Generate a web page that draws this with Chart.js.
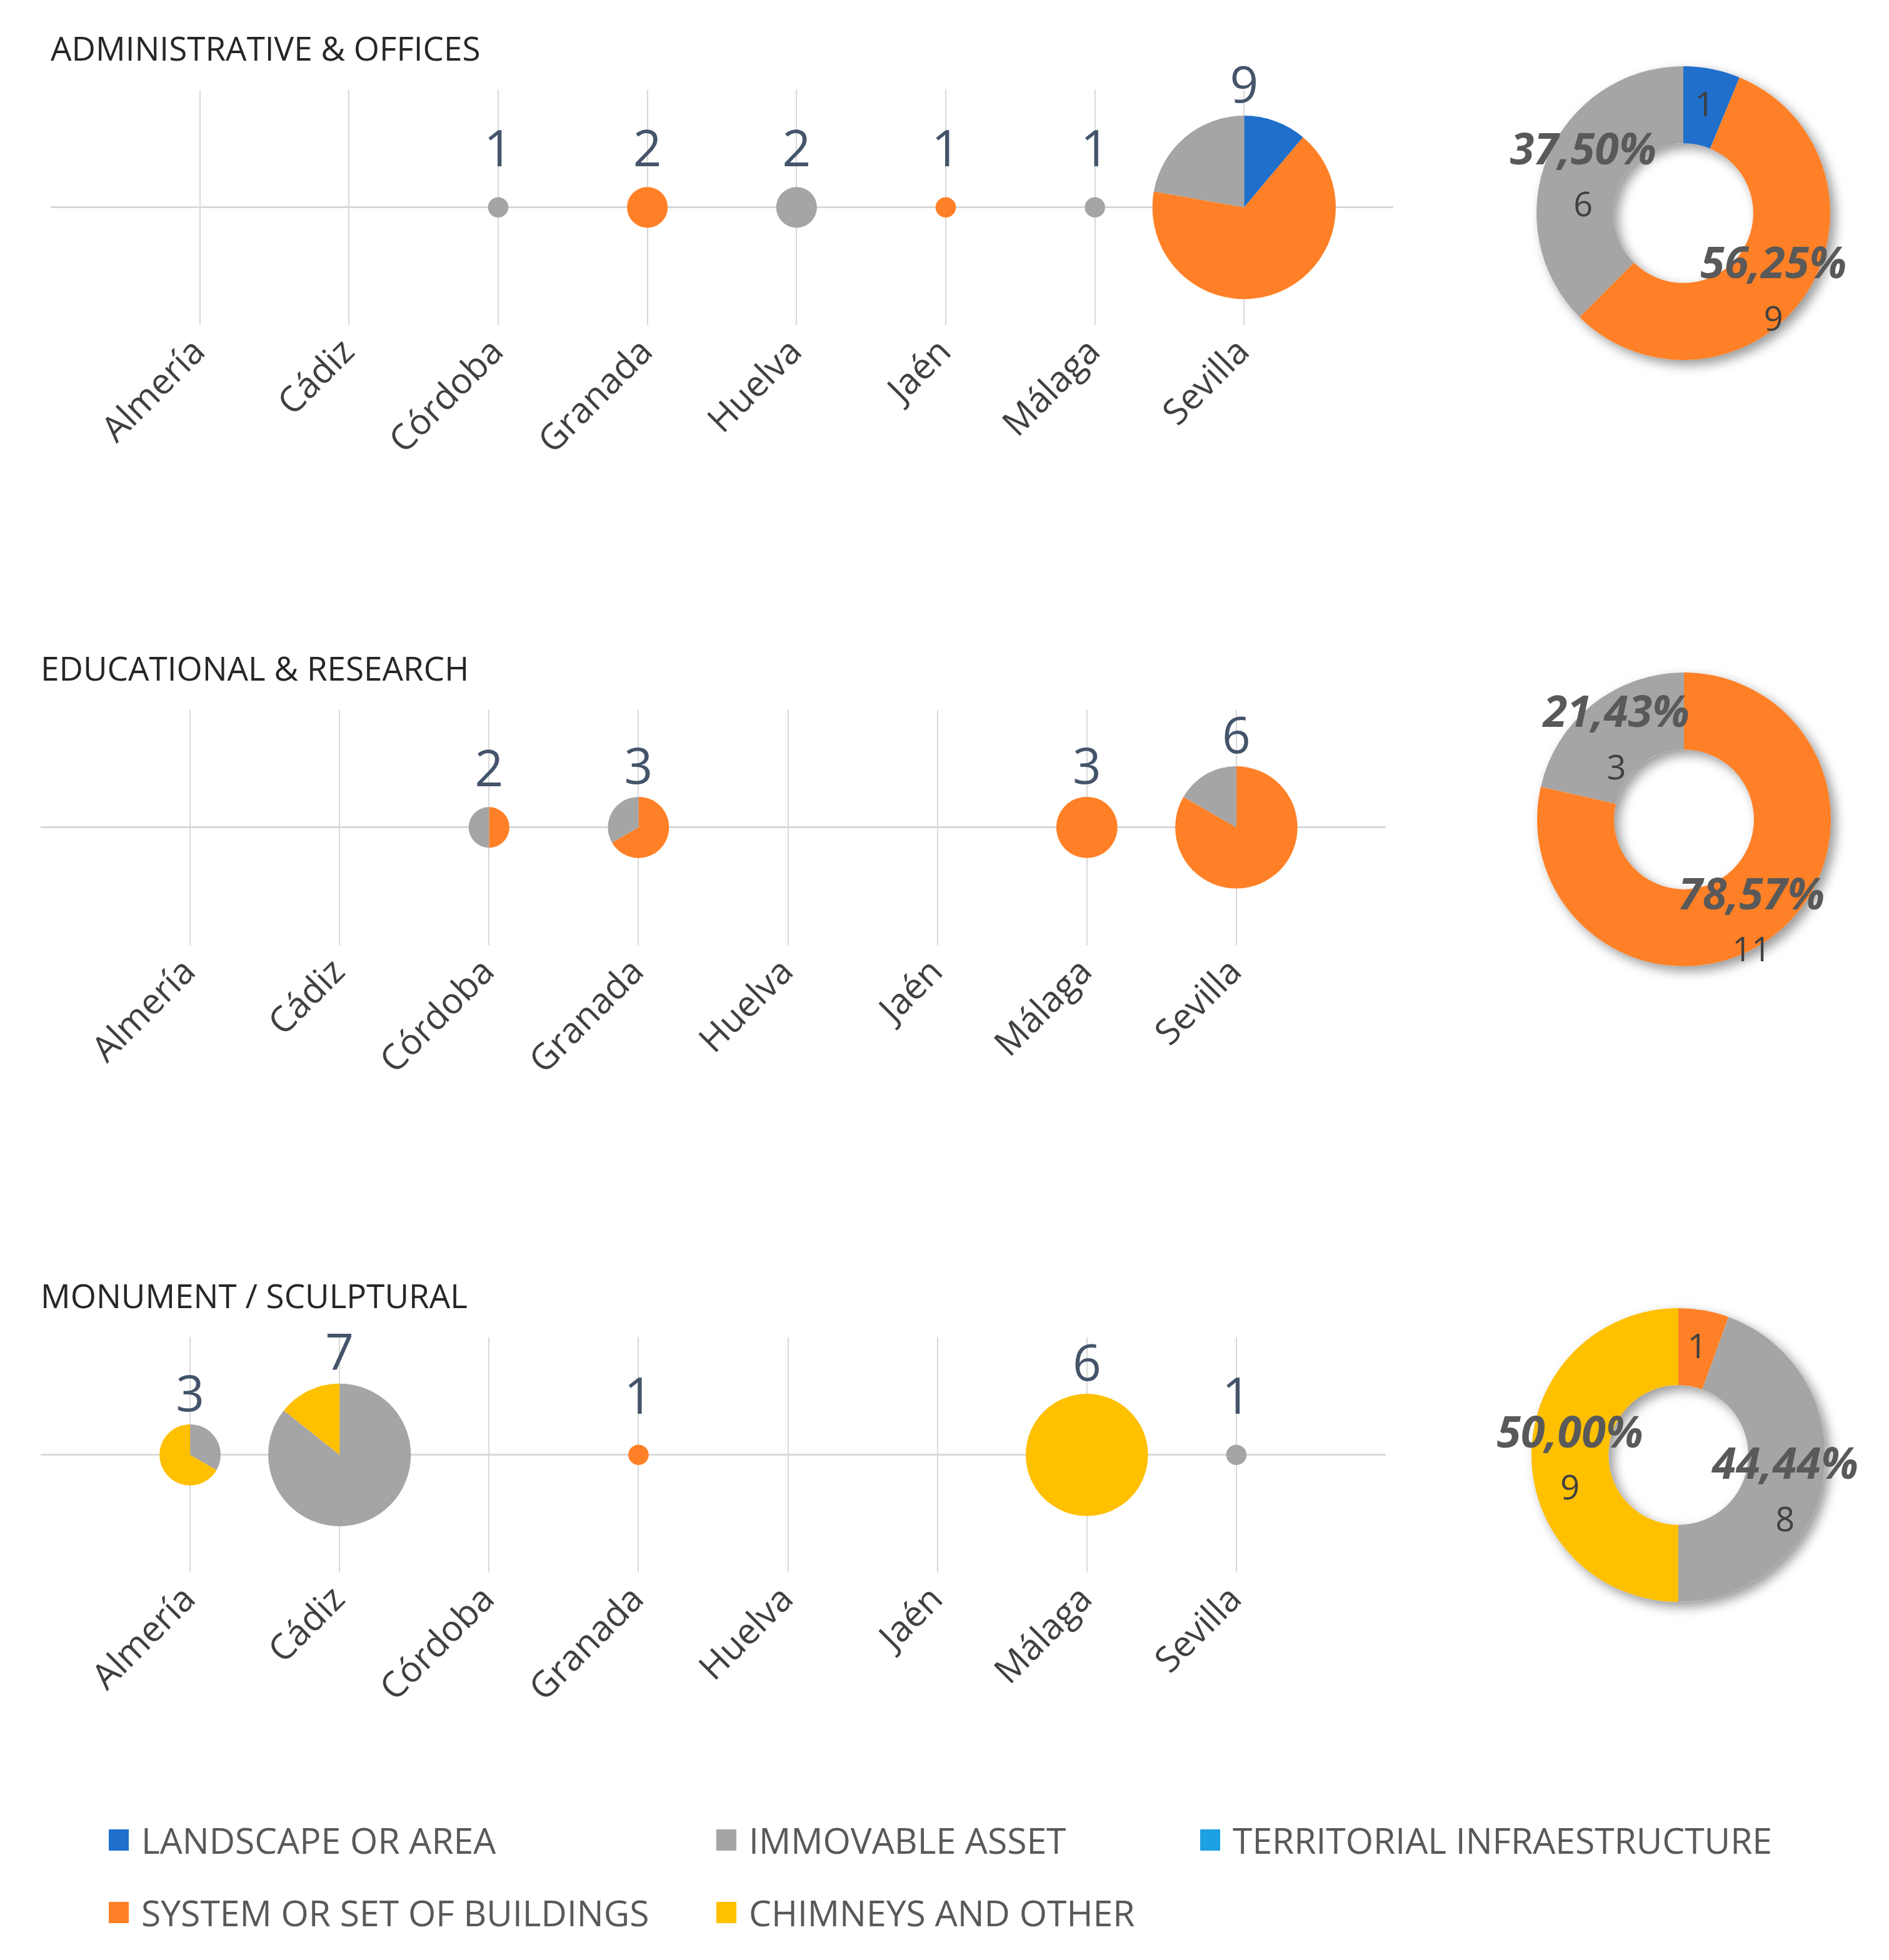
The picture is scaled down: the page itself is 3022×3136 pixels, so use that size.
<!DOCTYPE html>
<html>
<head>
<meta charset="utf-8">
<script src="https://cdn.jsdelivr.net/npm/chart.js@4.4.1/dist/chart.umd.min.js"></script>
<style>
  body { margin: 0; background: #fff; width: 3022px; height: 3136px; position: relative; overflow: hidden; font-family: "Open Sans", sans-serif; }
  canvas { position: absolute; }
  .legend-item { position: absolute; height: 80px; display: flex; align-items: center; font-size: 57px; color: #595959; white-space: nowrap; }
  .legend-item i { display: inline-block; width: 32px; height: 34px; margin-right: 20px; }
</style>
</head>
<body>
<canvas id="bubble1" width="2300" height="770" style="left:0;top:0"></canvas>
<canvas id="donut1" width="600" height="600" style="left:2393px;top:41px"></canvas>
<canvas id="bubble2" width="2300" height="770" style="left:0;top:992px"></canvas>
<canvas id="donut2" width="600" height="600" style="left:2394px;top:1011px"></canvas>
<canvas id="bubble3" width="2300" height="770" style="left:0;top:1996px"></canvas>
<canvas id="donut3" width="600" height="600" style="left:2385px;top:2028px"></canvas>
<div id="legend"></div>
<script>
const cities = ['Almería', 'Cádiz', 'Córdoba', 'Granada', 'Huelva', 'Jaén', 'Málaga', 'Sevilla'];
const seriesNames = ['LANDSCAPE OR AREA', 'SYSTEM OR SET OF BUILDINGS', 'IMMOVABLE ASSET', 'CHIMNEYS AND OTHER', 'TERRITORIAL INFRAESTRUCTURE'];
const seriesColors = ['#1f6fcb', '#ff8026', '#a5a5a5', '#ffc000', '#1ea0e4'];

// administrative & offices
const adminLandscape   = [0, 0, 0, 0, 0, 0, 0, 1];
const adminSystem      = [0, 0, 0, 2, 0, 1, 0, 6];
const adminImmovable   = [0, 0, 1, 0, 2, 0, 1, 2];
const adminChimneys    = [0, 0, 0, 0, 0, 0, 0, 0];
const adminTerritorial = [0, 0, 0, 0, 0, 0, 0, 0];

// educational & research
const eduLandscape   = [0, 0, 0, 0, 0, 0, 0, 0];
const eduSystem      = [0, 0, 1, 2, 0, 0, 3, 5];
const eduImmovable   = [0, 0, 1, 1, 0, 0, 0, 1];
const eduChimneys    = [0, 0, 0, 0, 0, 0, 0, 0];
const eduTerritorial = [0, 0, 0, 0, 0, 0, 0, 0];

// monument / sculptural
const monLandscape   = [0, 0, 0, 0, 0, 0, 0, 0];
const monSystem      = [0, 0, 0, 1, 0, 0, 0, 0];
const monImmovable   = [1, 6, 0, 0, 0, 0, 0, 1];
const monChimneys    = [2, 1, 0, 0, 0, 0, 6, 0];
const monTerritorial = [0, 0, 0, 0, 0, 0, 0, 0];

const RADIUS_PER_ITEM = 16.3;
const GRID = '#d9d9d9';

Chart.defaults.font.family = '"Open Sans", sans-serif';

// draws every bubble as a small pie, split by series
const piePlugin = {
  id: 'pies',
  afterDatasetsDraw(chart) {
    const ctx = chart.ctx;
    const ds = chart.data.datasets[0];
    chart.getDatasetMeta(0).data.forEach((el, k) => {
      const i = ds.data[k].idx;
      const total = ds.counts.reduce((s, arr) => s + arr[i], 0);
      const r = el.options.radius;
      let a = -Math.PI / 2;
      ds.counts.forEach((arr, s) => {
        if (!arr[i]) return;
        const b = a + arr[i] / total * Math.PI * 2;
        ctx.beginPath();
        ctx.moveTo(el.x, el.y);
        ctx.arc(el.x, el.y, r, a, b);
        ctx.closePath();
        ctx.fillStyle = seriesColors[s];
        ctx.fill();
        a = b;
      });
      ctx.save();
      ctx.font = '80px "Open Sans"';
      ctx.fillStyle = '#44546a';
      ctx.textAlign = 'center';
      ctx.textBaseline = 'middle';
      ctx.fillText(String(total), el.x, el.y - Math.max(r, 45) - 44);
      ctx.restore();
    });
  }
};

function makeBubble(id, title, counts, padLeft, padRight) {
  const points = [];
  cities.forEach((c, i) => {
    const t = counts.reduce((s, arr) => s + arr[i], 0);
    if (t > 0) points.push({ x: i + 1, y: 0, r: t * RADIUS_PER_ITEM, idx: i });
  });
  new Chart(document.getElementById(id), {
    type: 'bubble',
    data: { datasets: [{ data: points, counts: counts, backgroundColor: 'rgba(0,0,0,0)', borderWidth: 0, hoverRadius: 0 }] },
    options: {
      responsive: false,
      animation: false,
      events: [],
      layout: { autoPadding: false, padding: { left: padLeft, right: padRight, top: 0, bottom: 0 } },
      plugins: {
        legend: { display: false },
        tooltip: { enabled: false },
        title: {
          display: true, text: title, align: 'start', color: '#262626',
          font: { size: 53, weight: 'normal' },
          padding: { top: 50, bottom: 30 }
        }
      },
      scales: {
        x: {
          type: 'linear', min: 0, max: 9,
          ticks: {
            stepSize: 1, autoSkip: false, minRotation: 45, maxRotation: 45, padding: 10,
            color: '#404040', font: { size: 57 },
            callback: v => cities[v - 1] || ''
          },
          grid: {
            drawTicks: false, lineWidth: 2,
            color: c => (c.tick && c.tick.value >= 1 && c.tick.value <= 8) ? GRID : 'rgba(0,0,0,0)'
          },
          border: { display: false },
          afterFit: s => { s.height = 250; s.paddingLeft = 0; s.paddingRight = 0; }
        },
        y: {
          min: -1, max: 1,
          ticks: { display: false, stepSize: 1 },
          grid: {
            drawTicks: false, lineWidth: 3,
            color: c => (c.tick && c.tick.value === 0) ? GRID : 'rgba(0,0,0,0)'
          },
          border: { display: false },
          afterFit: s => { s.width = 0; s.paddingTop = 0; s.paddingBottom = 0; }
        }
      }
    },
    plugins: [piePlugin]
  });
}

// soft drop shadow under the whole ring
const ringShadow = {
  id: 'ringShadow',
  beforeDatasetsDraw(chart) {
    const el = chart.getDatasetMeta(0).data[0];
    const ctx = chart.ctx;
    ctx.save();
    ctx.shadowColor = 'rgba(0,0,0,0.4)';
    ctx.shadowBlur = 18;
    ctx.shadowOffsetX = 8;
    ctx.shadowOffsetY = 8;
    ctx.beginPath();
    ctx.arc(el.x, el.y, el.outerRadius, 0, Math.PI * 2);
    ctx.arc(el.x, el.y, el.innerRadius, 0, Math.PI * 2, true);
    ctx.fillStyle = '#ffffff';
    ctx.fill();
    ctx.restore();
  }
};

const donutLabels = {
  id: 'donutLabels',
  afterDatasetsDraw(chart) {
    const ctx = chart.ctx;
    const values = chart.data.datasets[0].data;
    const sum = values.reduce((a, b) => a + b, 0);
    ctx.save();
    ctx.textAlign = 'center';
    ctx.textBaseline = 'middle';
    chart.getDatasetMeta(0).data.forEach((el, i) => {
      const v = values[i];
      if (!v) return;
      const p = el.tooltipPosition();
      const share = v / sum;
      if (share > 0.1) {
        const dy = p.y > el.y ? 30 : 10;
        ctx.font = 'italic bold 70px "Open Sans"';
        ctx.fillStyle = '#595959';
        ctx.fillText((share * 100).toFixed(2).replace('.', ',') + '%', p.x, p.y - 42 + dy);
        ctx.font = '54px "Open Sans"';
        ctx.fillStyle = '#404040';
        ctx.fillText(String(v), p.x, p.y + 46 + dy);
      } else {
        ctx.font = '54px "Open Sans"';
        ctx.fillStyle = '#404040';
        ctx.fillText(String(v), p.x, p.y);
      }
    });
    ctx.restore();
  }
};

function makeDonut(id, counts) {
  const totals = counts.map(arr => arr.reduce((a, b) => a + b, 0));
  new Chart(document.getElementById(id), {
    type: 'doughnut',
    data: { labels: seriesNames, datasets: [{ data: totals, backgroundColor: seriesColors, borderWidth: 0 }] },
    options: {
      responsive: false,
      animation: false,
      events: [],
      cutout: '47.6%',
      layout: { padding: 65 },
      plugins: { legend: { display: false }, tooltip: { enabled: false } }
    },
    plugins: [ringShadow, donutLabels]
  });
}

const adminCounts = [adminLandscape, adminSystem, adminImmovable, adminChimneys, adminTerritorial];
const eduCounts = [eduLandscape, eduSystem, eduImmovable, eduChimneys, eduTerritorial];
const monCounts = [monLandscape, monSystem, monImmovable, monChimneys, monTerritorial];

makeBubble('bubble1', 'ADMINISTRATIVE & OFFICES', adminCounts, 81, 71);
makeBubble('bubble2', 'EDUCATIONAL & RESEARCH', eduCounts, 65, 83);
makeBubble('bubble3', 'MONUMENT / SCULPTURAL', monCounts, 65, 83);
makeDonut('donut1', adminCounts);
makeDonut('donut2', eduCounts);
makeDonut('donut3', monCounts);

// legend, in the reference order
const legendSpots = [
  { s: 0, x: 174, y: 2944 }, { s: 2, x: 1146, y: 2944 }, { s: 4, x: 1920, y: 2944 },
  { s: 1, x: 174, y: 3060 }, { s: 3, x: 1146, y: 3060 }
];
const legend = document.getElementById('legend');
legendSpots.forEach(p => {
  const d = document.createElement('div');
  d.className = 'legend-item';
  d.style.left = p.x + 'px';
  d.style.top = (p.y - 40) + 'px';
  d.innerHTML = '<i style="background:' + seriesColors[p.s] + '"></i>' + seriesNames[p.s];
  legend.appendChild(d);
});
</script>
</body>
</html>
